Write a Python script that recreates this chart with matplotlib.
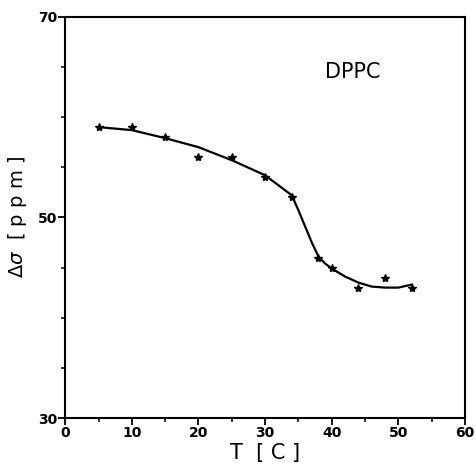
import matplotlib
matplotlib.use('Agg')
import matplotlib.pyplot as plt

# measured points (T in C, delta sigma in ppm)
temp = [5, 10, 15, 20, 25, 30, 34, 38, 40, 44, 48, 52]
dsigma = [59.0, 59.0, 58.0, 56.0, 56.0, 54.0, 52.0, 46.0, 45.0, 43.0, 44.0, 43.0]

# hand drawn guide curve
curve_t = [5, 10, 15, 20, 25, 30, 34, 35, 36, 37, 38, 39, 40, 42, 44, 46, 48, 50, 52]
curve_s = [59.0, 58.7, 57.9, 57.0, 55.7, 54.2, 52.2, 50.7, 49.1, 47.5, 46.1, 45.4, 44.9,
           44.1, 43.5, 43.1, 43.0, 43.0, 43.3]

fig = plt.figure(figsize=(4.76, 4.66), dpi=100)
ax = fig.add_axes([0.137, 0.103, 0.840, 0.861])

ax.plot(curve_t, curve_s, color='black', lw=1.6)
ax.plot(temp, dsigma, linestyle='none', marker='*', ms=6, color='black')

ax.set_xlim(0, 60)
ax.set_ylim(30, 70)
ax.set_xticks(range(0, 61, 10))
ax.set_xticks(range(0, 61, 5), minor=True)
ax.set_yticks([30, 50, 70])
ax.set_yticks(range(30, 71, 5), minor=True)
ax.tick_params(which='major', direction='out', length=5, width=1.3, labelsize=10, pad=1)
ax.tick_params(which='minor', direction='out', length=3, width=1.1)
for lab in ax.get_xticklabels() + ax.get_yticklabels():
    lab.set_fontweight('bold')
for sp in ax.spines.values():
    sp.set_linewidth(1.5)

ax.set_xlabel('T  [ C ]', fontsize=15, labelpad=2)
ax.set_ylabel(r'$\Delta\sigma$  [ p p m ]', fontsize=14, labelpad=6)
ax.text(39, 64.5, 'DPPC', fontsize=15, va='center')

plt.savefig('out.png', dpi=100)
